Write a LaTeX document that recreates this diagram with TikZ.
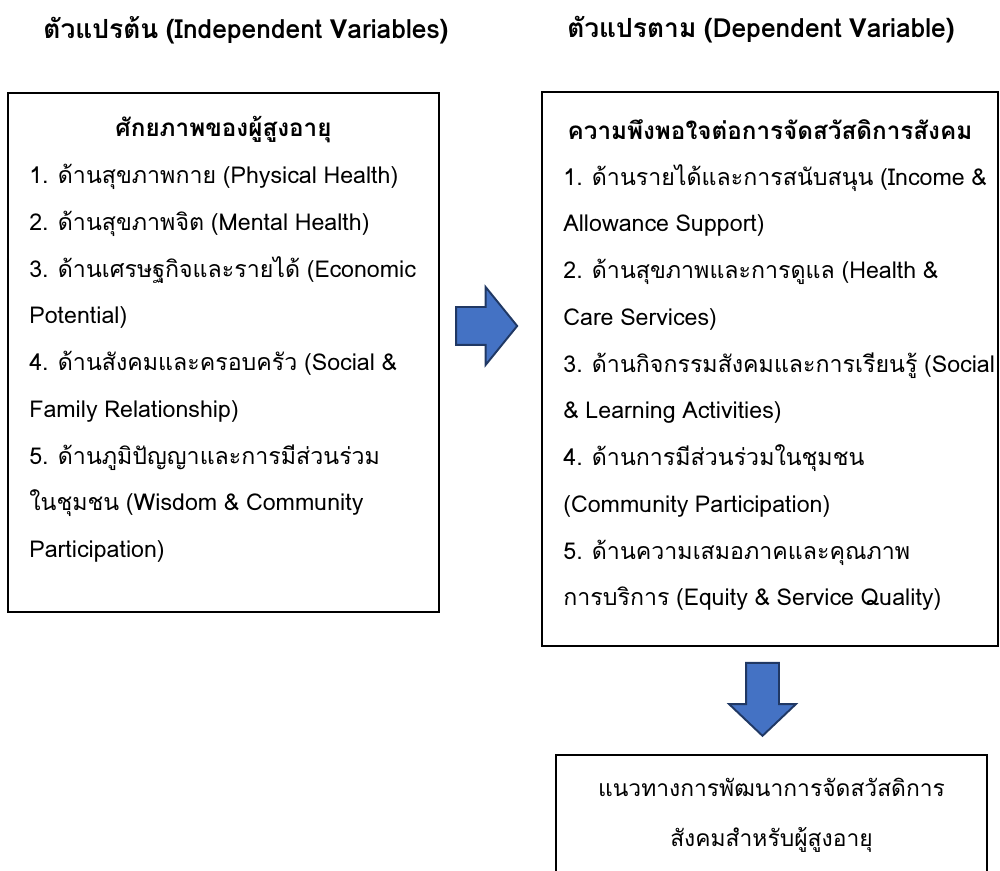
\documentclass[tikz,border=0pt]{standalone}
\usepackage{fontspec}
\setmainfont[Script=Thai,WordSpace=0.85]{Loma}
\usetikzlibrary{positioning,shapes.arrows}
\definecolor{arrowfill}{HTML}{4472C4}
\definecolor{arrowline}{HTML}{203864}

\begin{document}
\begin{tikzpicture}[x=1cm,y=1cm]
\tikzset{
  heading/.style={font=\fontsize{15}{18}\selectfont\bfseries},
  boxtitle/.style={font=\fontsize{13.8}{18}\selectfont\bfseries},
  frame/.style={draw,line width=1.1pt,inner sep=0pt},
  itemlist/.style={align=left,inner sep=0pt,anchor=north west,font=\fontsize{13.2}{26.6}\selectfont},
  centerlist/.style={align=center,inner sep=0pt,font=\fontsize{13}{28.3}\selectfont},
  blockarrow/.style={single arrow,draw=arrowline,fill=arrowfill,line width=1.1pt}
}
\useasboundingbox (0,0) rectangle (20,-17.42);
\clip (0,0) rectangle (20,-17.42);
\node[heading] (h_indep) at (4.92,-0.6) {ตัวแปรต้น (Independent Variables)};
\node[heading] (h_dep) at (15.22,-0.6) {ตัวแปรตาม (Dependent Variable)};
\node[frame,minimum width=8.62cm,minimum height=10.38cm] (b_potential) at (4.47,-7.05) {};
\node[frame,minimum width=9.12cm,minimum height=11.08cm] (b_welfare) at (15.40,-7.38) {};
\node[frame,minimum width=8.62cm,minimum height=3.5cm,anchor=north] (b_guide) at (15.43,-15.08) {};
\node[boxtitle] (t_potential) at (4.47,-2.6) {ศักยภาพของผู้สูงอายุ};
\node[boxtitle] (t_welfare) at (15.40,-2.6) {ความพึงพอใจต่อการจัดสวัสดิการสังคม};
\node[itemlist] (l_potential) at (0.58,-3.28) {1. ด้านสุขภาพกาย (Physical Health)\\
2. ด้านสุขภาพจิต (Mental Health)\\
3. ด้านเศรษฐกิจและรายได้ (Economic\\
Potential)\\
4. ด้านสังคมและครอบครัว (Social \&\\
Family Relationship)\\
5. ด้านภูมิปัญญาและการมีส่วนร่วม\\
ในชุมชน (Wisdom \& Community\\
Participation)};
\node[itemlist] (l_welfare) at (11.26,-3.28) {1. ด้านรายได้และการสนับสนุน (Income \&\\
Allowance Support)\\
2. ด้านสุขภาพและการดูแล (Health \&\\
Care Services)\\
3. ด้านกิจกรรมสังคมและการเรียนรู้ (Social\\
\& Learning Activities)\\
4. ด้านการมีส่วนร่วมในชุมชน\\
(Community Participation)\\
5. ด้านความเสมอภาคและคุณภาพ\\
การบริการ (Equity \& Service Quality)};
\node[centerlist] (l_guide) at (15.43,-16.3) {แนวทางการพัฒนาการจัดสวัสดิการ\\
สังคมสำหรับผู้สูงอายุ};
% block arrows between the panels
\node[blockarrow,inner sep=0.36cm,minimum height=1.22cm,single arrow head extend=0.4cm,single arrow tip angle=102] (a_right) at (9.58,-6.52) {};
\node[blockarrow,inner sep=0.31cm,minimum height=1.46cm,single arrow head extend=0.34cm,single arrow tip angle=93,shape border rotate=270] (a_down) at (15.25,-13.83) {};
\end{tikzpicture}
\end{document}
